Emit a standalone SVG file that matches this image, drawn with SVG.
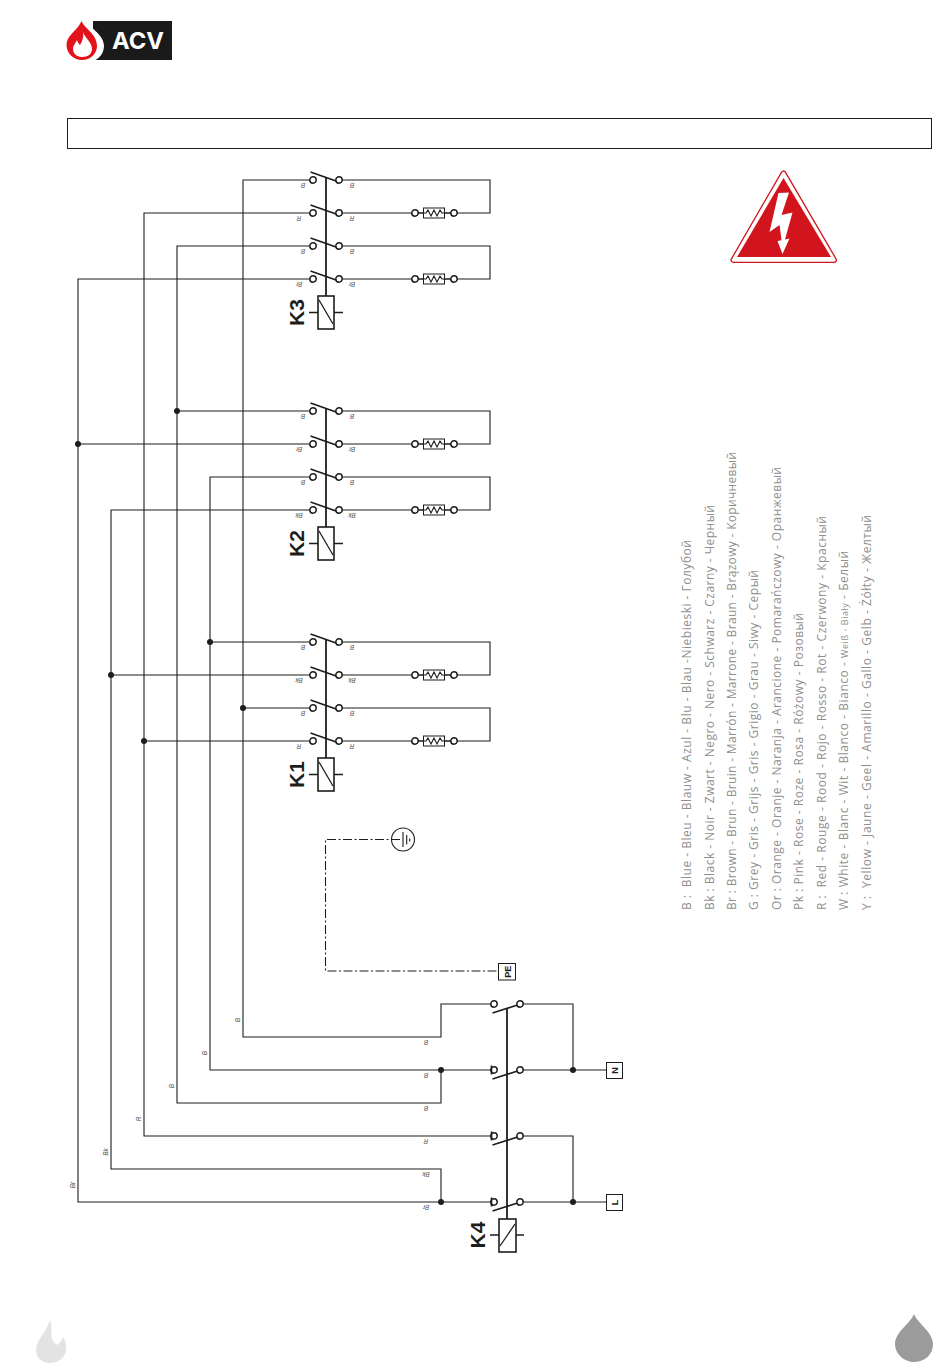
<svg xmlns="http://www.w3.org/2000/svg" xmlns:xlink="http://www.w3.org/1999/xlink" width="950" height="1369" viewBox="0 0 950 1369">
<style>
.w{fill:none;stroke:#1d1d1b;stroke-width:1.1}
.pe{fill:none;stroke:#1d1d1b;stroke-width:1.1;stroke-dasharray:9 2.5 2 2.5}
.c{fill:#fff;stroke:#1d1d1b;stroke-width:1.5}
.b{fill:none;stroke:#1d1d1b;stroke-width:1.6}
.s{fill:none;stroke:#1d1d1b;stroke-width:1.8}
.d{fill:#1d1d1b}
.l{font:italic 6.5px "Liberation Sans",sans-serif;fill:#555;text-anchor:middle}
.k{font:bold 21px "Liberation Sans",sans-serif;fill:#1d1d1b;text-anchor:middle}
.t{font:bold 9px "Liberation Sans",sans-serif;fill:#1d1d1b;text-anchor:middle}
.g{font:12px "Open Sans","Noto Sans",sans-serif;fill:#8f8f8f}
</style>
<defs>
<g id="pole"><line class="b" x1="310.5" y1="-8" x2="336" y2="1"/><circle class="c" cx="313" cy="0" r="3.2"/><circle class="c" cx="339" cy="0" r="3.2"/></g>
<g id="res"><circle class="c" cx="415" cy="0" r="3.2"/><circle class="c" cx="454" cy="0" r="3.2"/><rect x="423.5" y="-5" width="21" height="10" fill="#fff" stroke="#1d1d1b" stroke-width="1"/><path class="w" d="M418 0H426L428 -3L431 3L434 -3L437 3L440 -3L442 0H451"/></g>
<g id="coil"><rect x="318" y="0" width="16" height="33" fill="#fff" stroke="#1d1d1b" stroke-width="1.6"/><line x1="319" y1="4" x2="333" y2="28" stroke="#1d1d1b" stroke-width="1.3"/><path class="b" d="M309 16.500H318M334 16.500H343"/></g>
<g id="pole4"><line class="b" x1="492.500" y1="9" x2="517.500" y2="1"/><circle class="c" cx="494" cy="0" r="3.2"/><circle class="c" cx="520" cy="0" r="3.2"/></g>
</defs>

<g id="logo">
<rect x="93" y="21" width="79" height="39" fill="#1a1a1a"/>
<path d="M84 18C88 27 104 34 104 46C104 56 95 63 84 63C74 63 66 54 66 45C66 34 80 29 84 18Z" fill="#fff"/>
<path d="M81.500 21C84 28 97 34 97 46C97 54 90 60 82 60C73 60 66.500 53 66.500 45C66.500 35 78 30 81.500 21Z" fill="#e2131b"/>
<path d="M83 32C85 38 92 42 92 49C92 54 88 57 82 57C76 57 73 53 73 49C73 45 76 43 77 40C78 43 79 44 80 45C82 42 84 37 83 32Z" fill="#fff"/>
<text x="112" y="49" font-family="Inter,'Liberation Sans',sans-serif" font-weight="700" font-size="23.500" fill="#fff" textLength="52" lengthAdjust="spacingAndGlyphs">ACV</text>
</g>

<rect id="title-box" x="67.500" y="118.500" width="864" height="30" fill="none" stroke="#1d1d1b" stroke-width="1"/>

<g id="connectors">
<path class="w" d="M313 180H243V1037H441V1004H491"/>
<path class="w" d="M313 213H144V1136H491"/>
<path class="w" d="M313 246H177V1103H441V1070"/>
<path class="w" d="M313 279H78V1202H491"/>
<path class="w" d="M177 411H313M78 444H313M313 477H210V1070H491M313 510H111V1169H441V1202"/>
<path class="w" d="M210 642H313M111 675H313M243 708H313M144 741H313"/>
<path class="w" d="M339 180H490V213H339M339 246H490V279H339M339 411H490V444H339M339 477H490V510H339M339 642H490V675H339M339 708H490V741H339"/>
<path class="w" d="M523 1004H573V1070M523 1070H606M523 1136H573V1202M523 1202H606"/>
<path class="pe" d="M400 839.500H325.500V971H498"/>
<circle class="d" cx="177" cy="411" r="3"/><circle class="d" cx="78" cy="444" r="3"/><circle class="d" cx="210" cy="642" r="3"/><circle class="d" cx="111" cy="675" r="3"/><circle class="d" cx="243" cy="708" r="3"/><circle class="d" cx="144" cy="741" r="3"/>
<circle class="d" cx="441" cy="1070" r="3"/><circle class="d" cx="441" cy="1202" r="3"/><circle class="d" cx="573" cy="1070" r="3"/><circle class="d" cx="573" cy="1202" r="3"/>
</g>

<g id="K3">
<line class="s" x1="326" y1="177" x2="326" y2="296"/>
<use href="#pole" y="180"/><use href="#pole" y="213"/><use href="#pole" y="246"/><use href="#pole" y="279"/>
<use href="#res" y="213"/><use href="#res" y="279"/><use href="#coil" y="296"/>
<text class="k" transform="translate(304,312.500) rotate(-90)">K3</text>
<g class="l"><text transform="translate(303,183) rotate(180)">B</text><text transform="translate(352,183) rotate(180)">B</text><text transform="translate(299,216) rotate(180)">R</text><text transform="translate(352,216) rotate(180)">R</text><text transform="translate(303,249) rotate(180)">B</text><text transform="translate(352,249) rotate(180)">B</text><text transform="translate(299,282) rotate(180)">Br</text><text transform="translate(352,282) rotate(180)">Br</text></g>
</g>

<g id="K2">
<line class="s" x1="326" y1="408" x2="326" y2="527"/>
<use href="#pole" y="411"/><use href="#pole" y="444"/><use href="#pole" y="477"/><use href="#pole" y="510"/>
<use href="#res" y="444"/><use href="#res" y="510"/><use href="#coil" y="527"/>
<text class="k" transform="translate(304,543.500) rotate(-90)">K2</text>
<g class="l"><text transform="translate(303,414) rotate(180)">B</text><text transform="translate(352,414) rotate(180)">B</text><text transform="translate(299,447) rotate(180)">Br</text><text transform="translate(352,447) rotate(180)">Br</text><text transform="translate(303,480) rotate(180)">B</text><text transform="translate(352,480) rotate(180)">B</text><text transform="translate(299,513) rotate(180)">Bk</text><text transform="translate(352,513) rotate(180)">Bk</text></g>
</g>

<g id="K1">
<line class="s" x1="326" y1="639" x2="326" y2="758"/>
<use href="#pole" y="642"/><use href="#pole" y="675"/><use href="#pole" y="708"/><use href="#pole" y="741"/>
<use href="#res" y="675"/><use href="#res" y="741"/><use href="#coil" y="758"/>
<text class="k" transform="translate(304,774.500) rotate(-90)">K1</text>
<g class="l"><text transform="translate(303,645) rotate(180)">B</text><text transform="translate(352,645) rotate(180)">B</text><text transform="translate(299,678) rotate(180)">Bk</text><text transform="translate(352,678) rotate(180)">Bk</text><text transform="translate(303,711) rotate(180)">B</text><text transform="translate(352,711) rotate(180)">B</text><text transform="translate(299,744) rotate(180)">R</text><text transform="translate(352,744) rotate(180)">R</text></g>
</g>

<g id="K4">
<line class="s" x1="507" y1="1008" x2="507" y2="1219"/>
<use href="#pole4" y="1004"/><use href="#pole4" y="1070"/><use href="#pole4" y="1136"/><use href="#pole4" y="1202"/>
<path class="b" d="M491.500 1065.500V1074.500M491.500 1131.500V1140.500M491.500 1197.500V1206.500"/>
<rect x="499" y="1219" width="17" height="33" fill="#fff" stroke="#1d1d1b" stroke-width="1.6"/>
<line x1="500" y1="1246" x2="515" y2="1224" stroke="#1d1d1b" stroke-width="1.3"/>
<path class="b" d="M490 1235H499M516 1235H524"/>
<text class="k" transform="translate(485,1235) rotate(-90)">K4</text>
</g>

<g id="wire-labels" class="l">
<text transform="translate(240,1020) rotate(-90)">B</text>
<text transform="translate(207,1053) rotate(-90)">B</text>
<text transform="translate(174,1086) rotate(-90)">B</text>
<text transform="translate(141,1119) rotate(-90)">R</text>
<text transform="translate(108,1152) rotate(-90)">Bk</text>
<text transform="translate(75,1185) rotate(-90)">Br</text>
<text transform="translate(426,1040) rotate(180)">B</text>
<text transform="translate(426,1073) rotate(180)">B</text>
<text transform="translate(426,1106) rotate(180)">B</text>
<text transform="translate(426,1139) rotate(180)">R</text>
<text transform="translate(426,1172) rotate(180)">Bk</text>
<text transform="translate(426,1205) rotate(180)">Br</text>
</g>

<g id="earth">
<circle cx="403" cy="839.500" r="11.500" fill="none" stroke="#1d1d1b" stroke-width="1.100"/>
<path class="w" d="M403 832V847M406.700 835V844.500M409.700 838.500V841.500"/>
</g>
<g id="PE"><rect x="498.500" y="963.500" width="17" height="16.500" fill="#fff" stroke="#1d1d1b" stroke-width="1"/><text class="t" transform="translate(511,971.700) rotate(-90)">PE</text></g>
<g id="N"><rect x="606.500" y="1062.500" width="16" height="16" fill="#fff" stroke="#1d1d1b" stroke-width="1"/><text class="t" transform="translate(617.500,1070.500) rotate(-90)">N</text></g>
<g id="L"><rect x="606.500" y="1194.500" width="16" height="16" fill="#fff" stroke="#1d1d1b" stroke-width="1"/><text class="t" transform="translate(617.500,1202.500) rotate(-90)">L</text></g>

<g id="warning">
<path d="M783.500 173.500L733.500 260H834Z" fill="#d2141c" stroke="#d2141c" stroke-width="6" stroke-linejoin="round"/>
<path d="M783.500 173.500L733.500 260H834Z" fill="#fff" stroke="#fff" stroke-width="3.400" stroke-linejoin="round"/>
<path d="M783.500 178L831 257H737Z" fill="#d2141c"/>
<path d="M778.500 193L789 192.500L781.500 215L792.500 212.500L785 239.500L789.500 238.500L782.500 254L777.500 241L781.500 240.300L779.500 225L769.500 232Z" fill="#fff"/>
</g>

<g id="legend" class="g">
<text transform="translate(691,910) rotate(-90)" textLength="370" xml:space="preserve">B :  Blue - Bleu - Blauw - Azul - Blu - Blau -Niebieski - Голубой</text>
<text transform="translate(714,910) rotate(-90)" textLength="405">Bk : Black - Noir - Zwart - Negro - Nero - Schwarz - Czarny - Черный</text>
<text transform="translate(736,910) rotate(-90)" textLength="458">Br : Brown - Brun - Bruin - Marrón - Marrone - Braun - Brązowy - Коричневый</text>
<text transform="translate(758,910) rotate(-90)" textLength="340">G : Grey - Gris - Grijs - Gris - Grigio - Grau - Siwy - Серый</text>
<text transform="translate(781,910) rotate(-90)" textLength="443">Or : Orange - Oranje - Naranja - Arancione - Pomarańczowy - Оранжевый</text>
<text transform="translate(803,910) rotate(-90)" textLength="297">Pk : Pink - Rose - Roze - Rosa - Różowy - Розовый</text>
<text transform="translate(826,910) rotate(-90)" textLength="394" xml:space="preserve">R :  Red - Rouge - Rood - Rojo - Rosso - Rot - Czerwony - Красный</text>
<text transform="translate(848,910) rotate(-90)" letter-spacing="0.55">W : White - Blanc - Wit - Blanco - Bianco - <tspan font-size="9">Weiß - Biały</tspan> - Белый</text>
<text transform="translate(871,910) rotate(-90)" textLength="395" xml:space="preserve">Y :  Yellow - Jaune - Geel - Amarillo - Gallo - Gelb - Żółty - Желтый</text>
</g>

<path id="footer-flame" d="M50 1320C54 1330 47 1337 57 1345C60 1343 62 1340 63 1337C66 1342 67 1347 66 1351C64 1359 58 1363 50 1363C42 1363 36 1358 36 1350C36 1340 47 1332 50 1320Z" fill="#e3e3e3"/>
<path id="footer-drop" d="M914 1314C918 1324 933 1332 933 1344C933 1355 924 1362 914 1362C904 1362 895 1354 895 1344C895 1332 910 1324 914 1314Z" fill="#9b9b9b"/>
</svg>
